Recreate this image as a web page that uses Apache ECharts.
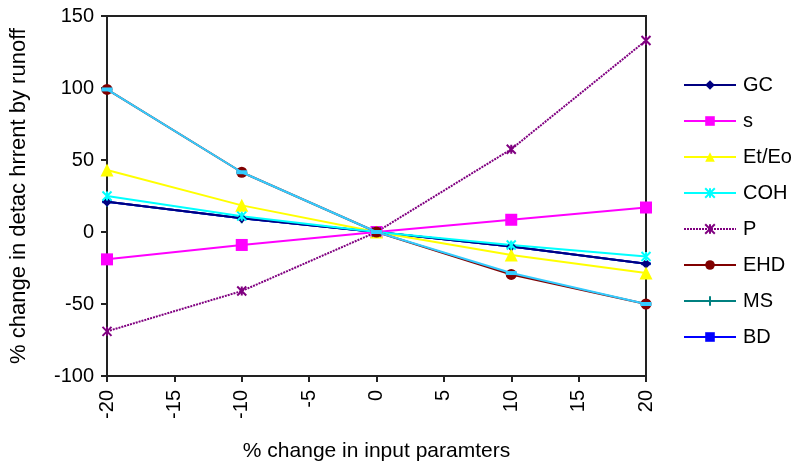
<!DOCTYPE html>
<html>
<head>
<meta charset="utf-8">
<script src="https://cdn.jsdelivr.net/npm/echarts@6/dist/echarts.min.js"></script>
<style>
  html, body { margin: 0; padding: 0; background: #fff; }
  #chart { width: 792px; height: 467px; }
</style>
</head>
<body>
<div id="chart"></div>
<script>
// input change steps (%)
var xSteps = [-20, -10, 0, 10, 20];

// % change in detachment per parameter
var gcValues = [21, 9.5, 0, -10, -22];
var sValues = [-19, -9, 0, 8.5, 17];
var etEoValues = [43, 18.5, 0, -16, -28.5];
var cohValues = [25, 11, 0, -9, -17];
var pValues = [-69, -41, 0, 57.5, 133];
var ehdValues = [99, 41.5, 0, -29.5, -50];
var msValues = [21, 9.5, 0, -10, -22];
var bdValues = [21, 9.5, 0, -10, -22];
// extra series with no legend entry (drawn over EHD)
var extraValues = [99, 41.5, 0, -28.5, -50];

var legendNames = ["GC", "s", "Et/Eo", "COH", "P", "EHD", "MS", "BD"];
var xTicks = { min: -20, max: 20, step: 5 };
var yTicks = { min: -100, max: 150, step: 50 };

var starPath = "path://M0,0L10,10M10,0L0,10M5,0L5,10";
var plusPath = "path://M5,0L5,10M0,5L10,5";

function pairs(vals) {
  return xSteps.map(function (x, i) { return [x, vals[i]]; });
}

function line(name, vals, color, symbol, size, extra) {
  var s = {
    name: name,
    type: "line",
    data: pairs(vals),
    symbol: symbol,
    symbolSize: size,
    showAllSymbol: true,
    lineStyle: { color: color, width: 2 },
    itemStyle: { color: color },
    emphasis: { disabled: true },
    animation: false,
    z: 3
  };
  if (extra) {
    for (var k in extra) s[k] = extra[k];
  }
  return s;
}

var chart = echarts.init(document.getElementById("chart"));
var font = "'Liberation Sans', Arial, sans-serif";

chart.setOption({
  backgroundColor: "#fff",
  grid: {
    left: 106,
    right: 146,
    top: 16,
    bottom: 91,
    show: true,
    borderColor: "#222",
    borderWidth: 2
  },
  legend: {
    data: legendNames,
    orient: "vertical",
    left: 678,
    top: 70,
    itemWidth: 52,
    itemHeight: 12,
    itemGap: 16,
    textStyle: { fontFamily: font, fontSize: 20, color: "#000", padding: [0, 0, 0, 2] },
    selectedMode: false
  },
  xAxis: {
    type: "value",
    min: xTicks.min,
    max: xTicks.max,
    interval: xTicks.step,
    name: "% change in input paramters",
    nameLocation: "middle",
    nameGap: 65,
    nameTextStyle: { fontFamily: font, fontSize: 21, color: "#000" },
    splitLine: { show: false },
    axisLine: { onZero: false, lineStyle: { color: "#222", width: 2 } },
    axisTick: { length: 6, lineStyle: { color: "#222", width: 2 } },
    axisLabel: {
      rotate: 90,
      margin: 14,
      fontFamily: font,
      fontSize: 20,
      color: "#000"
    }
  },
  yAxis: {
    type: "value",
    min: yTicks.min,
    max: yTicks.max,
    interval: yTicks.step,
    name: "% change in detac hrrent by runoff",
    nameLocation: "middle",
    nameGap: 77,
    nameTextStyle: { fontFamily: font, fontSize: 22, color: "#000" },
    splitLine: { show: false },
    axisLine: { onZero: false, lineStyle: { color: "#222", width: 2 } },
    axisTick: { length: 6, lineStyle: { color: "#222", width: 2 } },
    axisLabel: {
      margin: 13,
      fontFamily: font,
      fontSize: 20,
      color: "#000"
    }
  },
  series: [
    line("GC", gcValues, "#000080", "diamond", 10),
    line("s", sValues, "#ff00ff", "rect", 12),
    line("Et/Eo", etEoValues, "#ffff00", "triangle", 13),
    line("COH", cohValues, "#00ffff", starPath, 9, {
      itemStyle: { color: "transparent", borderColor: "#00ffff", borderWidth: 2 }
    }),
    line("P", pValues, "#800080", starPath, 9, {
      lineStyle: { color: "#800080", width: 2, type: [2, 1] },
      itemStyle: { color: "transparent", borderColor: "#800080", borderWidth: 2 }
    }),
    line("EHD", ehdValues, "#800000", "circle", 11),
    line("MS", msValues, "#008080", plusPath, 10, {
      itemStyle: { color: "transparent", borderColor: "#008080", borderWidth: 2 },
      z: 1
    }),
    line("BD", bdValues, "#0000ff", "rect", [9, 3], { z: 1 }),
    line("", extraValues, "#33ccff", "rect", [11, 4], { z: 4 })
  ]
});
</script>
</body>
</html>
